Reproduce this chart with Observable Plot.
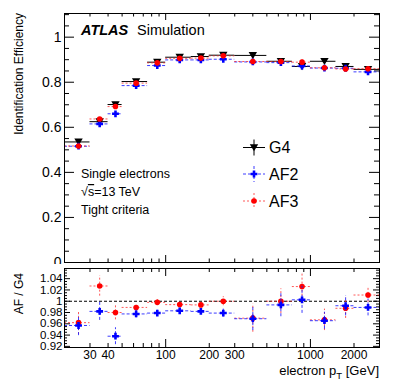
<!DOCTYPE html>
<html>
<head>
<meta charset="utf-8">
<script src="https://cdn.jsdelivr.net/npm/d3@7"></script>
<script src="https://cdn.jsdelivr.net/npm/@observablehq/plot@0.6"></script>
<style>
  body { margin: 0; background: #fff; }
  #chart { position: relative; width: 399px; height: 383px; font-family: "Liberation Sans", Arial, Helvetica, sans-serif; }
  #chart svg { position: absolute; left: 0; background: #fff; }
</style>
</head>
<body>
<div id="chart"></div>
<script>
// ---- data ----
const binLo  = [20, 30, 40, 50, 75, 100, 150, 200, 300, 500, 750, 1000, 1500, 2000];
const binHi  = [30, 40, 50, 75, 100, 150, 200, 300, 500, 750, 1000, 1500, 2000, 3000];
const binMid = [25, 35, 45, 62.5, 87.5, 125, 175, 250, 400, 625, 875, 1250, 1750, 2500];

const effG4   = [0.535, 0.625, 0.701, 0.803, 0.889, 0.911, 0.914, 0.920, 0.919, 0.893, 0.870, 0.893, 0.870, 0.857];
const errG4   = [0.004, 0.004, 0.004, 0.003, 0.003, 0.003, 0.003, 0.004, 0.010, 0.010, 0.011, 0.009, 0.009, 0.007];
const effAF2  = [0.516, 0.615, 0.660, 0.785, 0.874, 0.899, 0.899, 0.902, 0.890, 0.887, 0.872, 0.863, 0.862, 0.846];
const errAF2  = [0.004, 0.004, 0.004, 0.003, 0.003, 0.003, 0.003, 0.004, 0.010, 0.010, 0.011, 0.009, 0.009, 0.007];
const effAF3  = [0.517, 0.637, 0.692, 0.796, 0.886, 0.906, 0.907, 0.917, 0.892, 0.892, 0.889, 0.864, 0.859, 0.860];
const errAF3  = [0.004, 0.004, 0.004, 0.003, 0.003, 0.003, 0.003, 0.004, 0.010, 0.010, 0.011, 0.009, 0.009, 0.007];

const ratioAF2 = [0.957, 0.982, 0.938, 0.9775, 0.979, 0.983, 0.982, 0.979, 0.969, 0.9935, 1.0025, 0.9655, 0.992, 0.989];
const ratioErrAF2 = [0.018, 0.016, 0.015, 0.007, 0.005, 0.004, 0.005, 0.007, 0.021, 0.021, 0.024, 0.015, 0.018, 0.015];
const ratioAF3 = [0.962, 1.027, 0.980, 0.989, 0.998, 0.994, 0.9935, 1.000, 0.970, 1.000, 1.026, 0.967, 0.9875, 1.011];
const ratioErrAF3 = [0.021, 0.018, 0.013, 0.007, 0.005, 0.004, 0.005, 0.008, 0.025, 0.022, 0.024, 0.019, 0.018, 0.013];

// ticks
const yMainMajor = [0, 0.2, 0.4, 0.6, 0.8, 1];
const yMainMinor = [0.05, 0.1, 0.15, 0.25, 0.3, 0.35, 0.45, 0.5, 0.55, 0.65, 0.7, 0.75, 0.85, 0.9, 0.95, 1.05, 1.1];
const yRatioMajor = [0.92, 0.94, 0.96, 0.98, 1, 1.02, 1.04];
const yRatioMinor = [0.925, 0.93, 0.935, 0.945, 0.95, 0.955, 0.965, 0.97, 0.975, 0.985, 0.99, 0.995,
                     1.005, 1.01, 1.015, 1.025, 1.03, 1.035, 1.045, 1.05, 1.055];
const xMajor = [100, 1000];
const xMinor = [20, 30, 40, 50, 60, 70, 80, 90, 200, 300, 400, 500, 600, 700, 800, 900, 2000, 3000];
const xLabels = [30, 40, 100, 200, 300, 1000, 2000];

const rows = binMid.map((m, i) => ({
  lo: binLo[i], hi: binHi[i], mid: m,
  g4: effG4[i], g4e: errG4[i],
  af2: effAF2[i], af2e: errAF2[i],
  af3: effAF3[i], af3e: errAF3[i],
  r2: ratioAF2[i], r2e: ratioErrAF2[i],
  r3: ratioAF3[i], r3e: ratioErrAF3[i]
}));

// ---- marker symbols ----
const triDown = {draw(ctx, size) {
  const r = Math.sqrt(size / Math.PI);
  ctx.moveTo(-r, -r * 0.8); ctx.lineTo(r, -r * 0.8); ctx.lineTo(0, r * 0.9); ctx.closePath();
}};
const plusThick = {draw(ctx, size) {
  const r = Math.sqrt(size / Math.PI), w = r * 0.38;
  ctx.moveTo(-w, -r); ctx.lineTo(w, -r); ctx.lineTo(w, -w); ctx.lineTo(r, -w); ctx.lineTo(r, w);
  ctx.lineTo(w, w); ctx.lineTo(w, r); ctx.lineTo(-w, r); ctx.lineTo(-w, w); ctx.lineTo(-r, w);
  ctx.lineTo(-r, -w); ctx.lineTo(-w, -w); ctx.closePath();
}};
const circ = {draw(ctx, size) {
  const r = Math.sqrt(size / Math.PI);
  ctx.moveTo(r, 0); ctx.arc(0, 0, r, 0, 2 * Math.PI);
}};

const styles = {
  G4:  {line: "#000000", mark: "#000000", dash: null,  op: 1,    sym: triDown,   r: 4.2},
  AF2: {line: "#1a1aff", mark: "#0000ff", dash: "3,2", op: 0.85, sym: plusThick, r: 3.4},
  AF3: {line: "#ff2020", mark: "#ff0000", dash: "2,2", op: 0.75, sym: circ,      r: 2.8}
};

function series(key, errKey, st) {
  return [
    Plot.ruleY(rows, {y: key, x1: "lo", x2: "hi", stroke: st.line, strokeOpacity: st.op, strokeDasharray: st.dash, strokeWidth: 1}),
    Plot.ruleX(rows, {x: "mid", y1: d => d[key] - d[errKey], y2: d => d[key] + d[errKey], stroke: st.line, strokeOpacity: st.op, strokeDasharray: st.dash, strokeWidth: 1}),
    Plot.dot(rows, {x: "mid", y: key, symbol: st.sym, r: st.r, fill: st.mark, stroke: "none"})
  ];
}

function frameTicks(fw, fh, yMaj, yMin, yMajL, yMinL, xMajL, xMinL) {
  return [
    Plot.tickY(yMaj, {y: d => d, insetRight: fw - yMajL, stroke: "black"}),
    Plot.tickY(yMaj, {y: d => d, insetLeft: fw - yMajL, stroke: "black"}),
    Plot.tickY(yMin, {y: d => d, insetRight: fw - yMinL, stroke: "black"}),
    Plot.tickY(yMin, {y: d => d, insetLeft: fw - yMinL, stroke: "black"}),
    Plot.tickX(xMajor, {x: d => d, insetTop: fh - xMajL, stroke: "black"}),
    Plot.tickX(xMajor, {x: d => d, insetBottom: fh - xMajL, stroke: "black"}),
    Plot.tickX(xMinor, {x: d => d, insetTop: fh - xMinL, stroke: "black"}),
    Plot.tickX(xMinor, {x: d => d, insetBottom: fh - xMinL, stroke: "black"})
  ];
}

const W = 399, mL = 64, mR = 20;
const fw = W - mL - mR;
const font = '"Liberation Sans", Arial, Helvetica, sans-serif';

// ---- main panel ----
const mainH = 264, mainT = 13, mainB = 2;
const mainPlot = Plot.plot({
  width: W, height: mainH,
  marginLeft: mL, marginRight: mR, marginTop: mainT, marginBottom: mainB,
  style: {fontFamily: font, fontSize: "14px", color: "black", background: "white"},
  x: {type: "log", domain: [20, 3000], axis: null},
  y: {domain: [0, 1.105]},
  marks: [
    ...frameTicks(fw, mainH - mainT - mainB, yMainMajor, yMainMinor, 10, 5, 7, 3.5),
    Plot.axisY({ticks: yMainMajor, tickSize: 0, tickPadding: 3, tickFormat: d => String(d), fontSize: 14}),
    ...series("g4", "g4e", styles.G4),
    ...series("af2", "af2e", styles.AF2),
    ...series("af3", "af3e", styles.AF3),
    Plot.frame({stroke: "black", strokeWidth: 1})
  ]
});
mainPlot.style.top = "0px";

// annotations & legend for main
{
  const s = d3.select(mainPlot);
  const g = s.append("g").attr("font-family", font).attr("fill", "black").attr("text-anchor", "start");
  g.append("text").attr("x", 81).attr("y", 35).attr("font-size", 14.5).attr("font-weight", "bold").attr("font-style", "italic").text("ATLAS");
  g.append("text").attr("x", 137).attr("y", 35).attr("font-size", 14.5).text("Simulation");
  g.append("text").attr("x", 81).attr("y", 178).attr("font-size", 12.5).text("Single electrons");
  const t2 = g.append("text").attr("x", 81).attr("y", 196).attr("font-size", 12.5);
  t2.append("tspan").text("√");
  t2.append("tspan").attr("text-decoration", "overline").text("s");
  t2.append("tspan").text("=13 TeV");
  g.append("text").attr("x", 81).attr("y", 213.5).attr("font-size", 12.5).text("Tight criteria");
  g.append("text").attr("transform", "translate(23,13) rotate(-90)").attr("text-anchor", "end").attr("font-size", 12).text("Identification Efficiency");

  const leg = [["G4", styles.G4, 147.5], ["AF2", styles.AF2, 174], ["AF3", styles.AF3, 201]];
  for (const [lab, st, y] of leg) {
    const lg = g.append("g");
    lg.append("line").attr("x1", 243).attr("x2", 265).attr("y1", y).attr("y2", y)
      .attr("stroke", st.line).attr("stroke-opacity", st.op).attr("stroke-dasharray", st.dash);
    lg.append("line").attr("x1", 254).attr("x2", 254).attr("y1", y - 8).attr("y2", y + 8)
      .attr("stroke", st.line).attr("stroke-opacity", st.op).attr("stroke-dasharray", st.dash);
    lg.append("path").attr("transform", `translate(254,${y})`)
      .attr("d", d3.symbol(st.sym, Math.PI * st.r * st.r)()).attr("fill", st.mark);
    lg.append("text").attr("x", 269).attr("y", y + 5.8).attr("font-size", 16).text(lab);
  }
}

// ---- ratio panel ----
const rH = 119, rT = 4, rB = 36;
const ratioPlot = Plot.plot({
  width: W, height: rH,
  marginLeft: mL, marginRight: mR, marginTop: rT, marginBottom: rB,
  style: {fontFamily: font, fontSize: "11.5px", color: "black", background: "white"},
  x: {type: "log", domain: [20, 3000]},
  y: {domain: [0.918, 1.058]},
  marks: [
    ...frameTicks(fw, rH - rT - rB, yRatioMajor, yRatioMinor, 6, 3, 8, 4),
    Plot.axisY({ticks: yRatioMajor, tickSize: 0, tickPadding: 2, tickFormat: d => String(d), fontSize: 11.5}),
    Plot.axisX({ticks: xLabels, tickSize: 0, tickPadding: 3, tickFormat: d => String(d), fontSize: 12, label: null}),
    Plot.ruleY([1], {stroke: "black", strokeDasharray: "3,2", strokeWidth: 1.2}),
    ...series("r3", "r3e", styles.AF3),
    ...series("r2", "r2e", styles.AF2),
    Plot.frame({stroke: "black", strokeWidth: 1})
  ]
});
ratioPlot.style.top = mainH + "px";
{
  const g = d3.select(ratioPlot).append("g").attr("font-family", font).attr("fill", "black").attr("text-anchor", "start");
  g.append("text").attr("transform", "translate(23,9) rotate(-90)").attr("text-anchor", "end").attr("font-size", 12).text("AF / G4");
  const xl = g.append("text").attr("x", 379).attr("y", 111).attr("text-anchor", "end").attr("font-size", 13);
  xl.append("tspan").text("electron p");
  xl.append("tspan").attr("font-size", 9.5).attr("dy", 3.5).text("T");
  xl.append("tspan").attr("dy", -3.5).text(" [GeV]");
}

const root = document.getElementById("chart");
root.appendChild(mainPlot);
root.appendChild(ratioPlot);
</script>
</body>
</html>
